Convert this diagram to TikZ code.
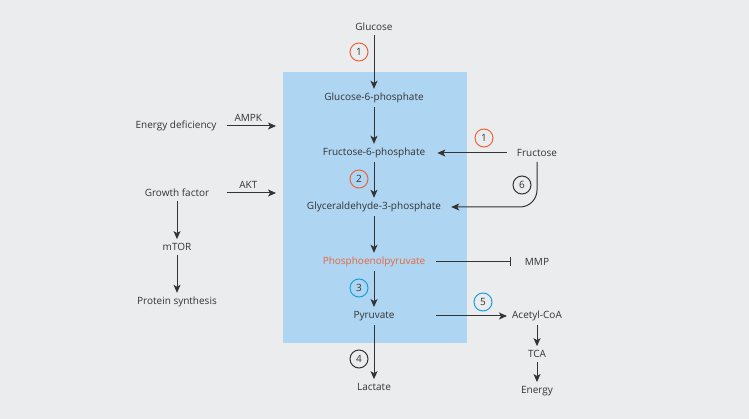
\documentclass[tikz,border=0pt]{standalone}
\usepackage{fontspec}
\setmainfont{Open Sans}
\usepackage{tikz}
\usetikzlibrary{positioning,arrows.meta}
\definecolor{bgc}{HTML}{EBECEE}
\definecolor{boxc}{HTML}{AED5F1}
\definecolor{orng}{HTML}{E8663D}
\definecolor{blu}{HTML}{1A9FDB}
\definecolor{ink}{HTML}{333333}
\begin{document}
\begin{tikzpicture}[x=1pt,y=-1pt,
	lbl/.style={text=ink,font=\fontsize{10}{12}\selectfont,inner sep=4pt},
	num/.style={circle,draw,line width=1pt,inner sep=0pt,minimum size=18pt,text=ink,font=\fontsize{10}{12}\selectfont},
	arr/.style={-{Stealth[length=8pt,width=7pt,inset=2pt]},draw=ink,line width=1pt}]
\useasboundingbox[fill=bgc] (0,0) rectangle (749,419);
\fill[boxc] (283,72) rectangle (467,343);
% main column
\node [lbl] (glc) at (374,27) {Glucose};
\node [lbl] (g6p) at (374,98) {Glucose-6-phosphate};
\node [lbl] (f6p) at (374,153) {Fructose-6-phosphate};
\node [lbl] (gap) at (374,207) {Glyceraldehyde-3-phosphate};
\node [lbl,text=orng] (pep) at (374,262) {Phosphoenolpyruvate};
\node [lbl] (pyr) at (374,316) {Pyruvate};
\node [lbl] (lac) at (374,387) {Lactate};
% right side
\node [lbl] (fru) at (537,153) {Fructose};
\node [lbl] (mmp) at (537,262) {MMP};
\node [lbl] (aco) at (537,316) {Acetyl-CoA};
\node [lbl] (tca) at (537,354) {TCA};
\node [lbl] (eng) at (537,391) {Energy};
% left side
\node [lbl] (def) at (176,126) {Energy deficiency};
\node [lbl] (gf) at (177,193) {Growth factor};
\node [lbl] (mtor) at (177,247) {mTOR};
\node [lbl] (prot) at (177,302) {Protein synthesis};
\coordinate (b1) at (276,126);
\coordinate (b2) at (276,193);
\coordinate (p1) at (436,262);
\coordinate (p2) at (436,316);
% numbers
\node [num,draw=orng] (n1) at (359,52) {1};
\node [num,draw=orng] (n1b) at (484,138) {1};
\node [num,draw=orng] (n2) at (359,179) {2};
\node [num,draw=blu] (n3) at (359,288) {3};
\node [num,draw=ink] (n4) at (359,359) {4};
\node [num,draw=blu] (n5) at (483,302) {5};
\node [num,draw=ink] (n6) at (522,185) {6};
\draw [arr] (glc) -- (g6p);
\draw [arr] (g6p) -- (f6p);
\draw [arr] (f6p) -- (gap);
\draw [arr] (gap) -- (pep);
\draw [arr] (pep) -- (pyr);
\draw [arr] (pyr) -- (lac);
\draw [arr,shorten >=8pt,shorten <=6pt] (fru) -- (f6p);
\draw [arr,rounded corners=17pt,shorten >=6pt] ([yshift=-1pt]fru.south) |- (gap);
\draw [ink,line width=1pt,-{Bar[width=9pt]},shorten >=10pt] (p1) -- (mmp);
\draw [arr,shorten >=1pt] (p2) -- (aco);
\draw [arr] (aco) -- (tca);
\draw [arr] (tca) -- (eng);
\draw [arr,shorten <=6pt] (def.east) -- node [lbl,above] {AMPK} (b1);
\draw [arr,shorten <=6pt] (gf.east -| def.east) -- node [lbl,above] {AKT} (b2);
\draw [arr] (gf) -- (mtor);
\draw [arr] (mtor) -- (prot);
\end{tikzpicture}
\end{document}
